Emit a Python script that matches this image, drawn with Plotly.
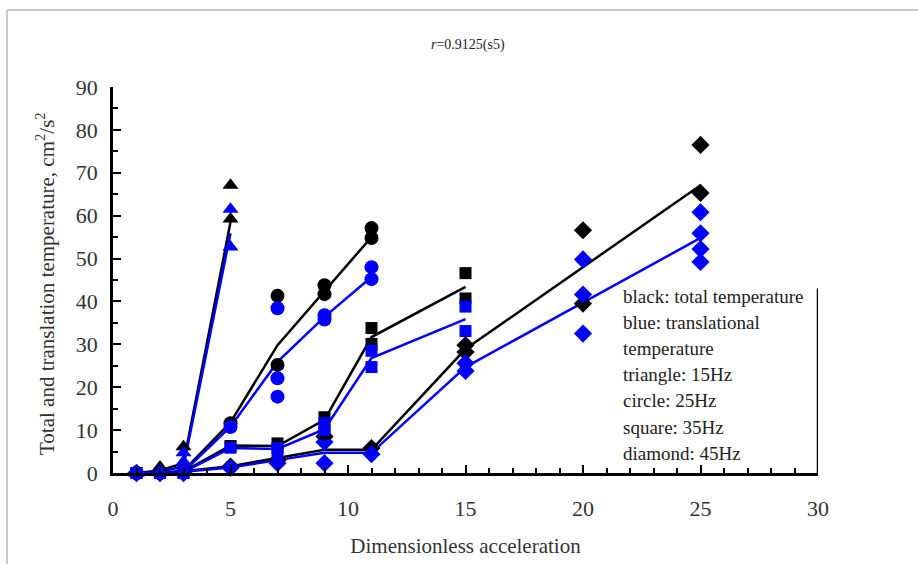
import plotly.graph_objects as go

# ---------------- data ----------------
# triangles (15 Hz)
tri_blk_x = [1, 2, 3, 5, 5]
tri_blk_y = [0, 1.4, 6.1, 67.1, 59.2]
tri_blu_x = [1, 2, 3, 3, 5, 5]
tri_blu_y = [0, 0.5, 4.7, 2.6, 61.5, 52.7]
tri_line_blk_x = [1, 2, 3, 5]
tri_line_blk_y = [0, 0.6, 2.3, 58.5]
tri_line_blu_x = [1, 2, 3, 5]
tri_line_blu_y = [0, 0.3, 1.5, 55.9]

# circles (25 Hz)
cir_blk_x = [1, 2, 3, 5, 7, 7, 9, 9, 11, 11]
cir_blk_y = [0, 0, 0.5, 11.6, 41.3, 25.2, 43.8, 41.7, 57.1, 54.8]
cir_blu_x = [1, 2, 3, 5, 7, 7, 7, 9, 9, 11, 11]
cir_blu_y = [0, 0, 0.3, 10.7, 38.4, 22.1, 17.8, 36.8, 35.8, 48.0, 45.2]
cir_line_blk_x = [1, 2, 3, 5, 7, 9, 11]
cir_line_blk_y = [0, 0, 0.5, 11.8, 29.8, 42.5, 55.0]
cir_line_blu_x = [1, 2, 3, 5, 7, 9, 11]
cir_line_blu_y = [0, 0, 0.3, 10.8, 25.9, 36.4, 45.7]

# squares (35 Hz)
sq_blk_x = [1, 2, 3, 5, 7, 9, 9, 11, 11, 15, 15]
sq_blk_y = [0, 0, 0.2, 6.3, 6.9, 13.0, 9.2, 33.8, 30.1, 46.6, 40.7]
sq_blu_x = [1, 2, 3, 5, 7, 7, 9, 9, 11, 11, 15, 15]
sq_blu_y = [0, 0, 0, 5.9, 5.8, 4.9, 11.6, 10.0, 28.5, 24.7, 38.8, 33.1]
sq_line_blk_x = [1, 2, 3, 5, 7, 9, 11, 15]
sq_line_blk_y = [0, 0, 0.3, 6.4, 6.3, 12.4, 31.7, 43.4]
sq_line_blu_x = [1, 2, 3, 5, 7, 9, 11, 15]
sq_line_blu_y = [0, 0, 0.2, 5.8, 5.6, 10.2, 26.8, 35.9]

# diamonds (45 Hz)
dia_blk_x = [1, 2, 3, 5, 7, 9, 11, 15, 15, 20, 20, 25, 25]
dia_blk_y = [0, 0, 0, 1.5, 3.0, 8.5, 5.8, 29.8, 28.2, 56.6, 39.5, 76.5, 65.3]
dia_blu_x = [1, 2, 3, 5, 7, 9, 9, 11, 15, 15, 20, 20, 20, 25, 25, 25, 25]
dia_blu_y = [0, 0, 0, 1.2, 2.3, 7.2, 2.3, 4.4, 25.6, 23.8, 49.8, 41.6, 32.5,
             60.8, 55.9, 52.2, 49.2]
dia_line_blk_x = [1, 2, 3, 5, 7, 9, 11, 15, 25]
dia_line_blk_y = [0, 0, 0.4, 1.6, 3.5, 5.4, 5.4, 28.9, 67.1]
dia_line_blu_x = [1, 2, 3, 5, 7, 9, 11, 15, 25]
dia_line_blu_y = [0, 0, 0.3, 1.3, 3.0, 4.7, 4.7, 24.7, 54.8]

legend_lines = ["black: total temperature", "blue: translational", "temperature",
                "triangle: 15Hz", "circle: 25Hz", "square: 35Hz", "diamond: 45Hz"]

BLK = "#000000"
BLU = "#0000FF"
FONT = "Liberation Serif"
TXT = "#333333"

fig = go.Figure()

lines = [
    (tri_line_blk_x, tri_line_blk_y, BLK), (tri_line_blu_x, tri_line_blu_y, BLU),
    (cir_line_blk_x, cir_line_blk_y, BLK), (cir_line_blu_x, cir_line_blu_y, BLU),
    (sq_line_blk_x, sq_line_blk_y, BLK), (sq_line_blu_x, sq_line_blu_y, BLU),
    (dia_line_blk_x, dia_line_blk_y, BLK), (dia_line_blu_x, dia_line_blu_y, BLU),
]
for x, y, c in lines:
    fig.add_trace(go.Scatter(x=x, y=y, mode="lines", line=dict(color=c, width=2.5),
                             showlegend=False, cliponaxis=False, hoverinfo="skip"))

markers = [
    (dia_blk_x, dia_blk_y, BLK, "diamond", 14),
    (dia_blu_x, dia_blu_y, BLU, "diamond", 14),
    (sq_blk_x, sq_blk_y, BLK, "square", 12),
    (sq_blu_x, sq_blu_y, BLU, "square", 12),
    (cir_blk_x, cir_blk_y, BLK, "circle", 14),
    (cir_blu_x, cir_blu_y, BLU, "circle", 14),
    (tri_blk_x, tri_blk_y, BLK, "triangle-up", 14),
    (tri_blu_x, tri_blu_y, BLU, "triangle-up", 14),
]
for x, y, c, s, sz in markers:
    fig.add_trace(go.Scatter(x=x, y=y, mode="markers",
                             marker=dict(color=c, symbol=s, size=sz, line=dict(width=0)),
                             showlegend=False, cliponaxis=False))

axis_common = dict(showline=True, linecolor="black", linewidth=2.5, mirror=False,
                   ticks="inside", ticklen=8, tickwidth=2, tickcolor="black",
                   showgrid=False, zeroline=False, automargin=False,
                   tickfont=dict(family=FONT, size=22, color=TXT))

fig.update_layout(
    width=918, height=564,
    margin=dict(l=113, r=100, t=87, b=91),
    paper_bgcolor="white", plot_bgcolor="white",
    xaxis=dict(range=[0, 30], dtick=5, tick0=0, ticklabelstandoff=14,
               minor=dict(dtick=1, ticks="inside", ticklen=5, tickwidth=1.5, tickcolor="black"),
               title=dict(text="Dimensionless acceleration", standoff=19,
                          font=dict(family=FONT, size=21, color=TXT)),
               **axis_common),
    yaxis=dict(range=[0, 90], dtick=10, tick0=0, ticklabelstandoff=8,
               minor=dict(dtick=5, ticks="inside", ticklen=5, tickwidth=1.5, tickcolor="black"),
               **axis_common),
)

# y-axis title as rotated annotation
fig.add_annotation(text="Total and translation temperature, cm<sup>2</sup>/s<sup>2</sup>",
                   xref="paper", yref="paper", textangle=-90,
                   x=(45 - 113) / 705, y=(473 - 284) / 386,
                   xanchor="center", yanchor="middle", showarrow=False,
                   font=dict(family=FONT, size=21, color=TXT))

# title
fig.add_annotation(text="<i>r</i>=0.9125(s5)", xref="paper", yref="paper",
                   x=(468 - 113) / 705, y=(473 - 35) / 386, showarrow=False,
                   font=dict(family=FONT, size=14, color="#222222"))

# legend-like text
y0 = 296
for i, t in enumerate(legend_lines):
    fig.add_annotation(text=t, xref="paper", yref="paper",
                       x=(621 - 113) / 705, y=(473 - (y0 + 26.2 * i)) / 386,
                       xanchor="left", yanchor="middle", showarrow=False,
                       font=dict(family=FONT, size=19, color="#222222"))

# right edge line of plot area (partial)
fig.add_shape(type="line", xref="x", yref="y", x0=30, x1=30, y0=0, y1=43,
              line=dict(color="black", width=2.5))

# outer gray frame (top and left)
fig.add_shape(type="line", xref="paper", yref="paper",
              x0=(7 - 113) / 705, x1=(918 - 113) / 705,
              y0=(473 - 10) / 386, y1=(473 - 10) / 386,
              line=dict(color="#c8c8c8", width=2))
fig.add_shape(type="line", xref="paper", yref="paper",
              x0=(7 - 113) / 705, x1=(7 - 113) / 705,
              y0=(473 - 10) / 386, y1=(473 - 570) / 386,
              line=dict(color="#c8c8c8", width=2))

fig.write_html("out.html")
